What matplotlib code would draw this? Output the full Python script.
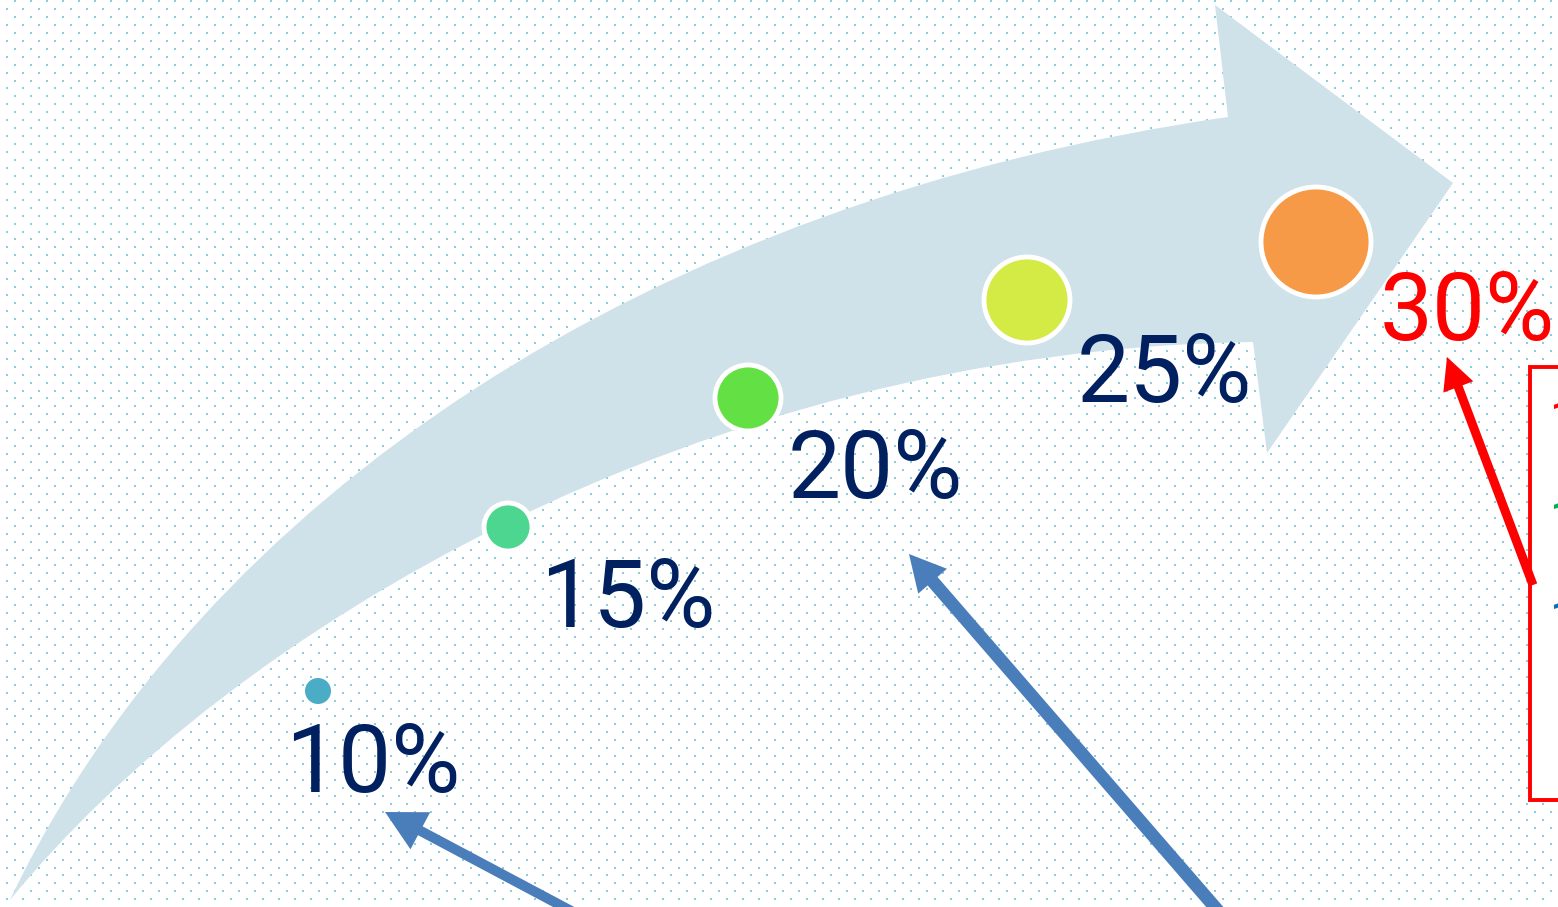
import numpy as np
import matplotlib.pyplot as plt
from matplotlib.path import Path
from matplotlib.patches import PathPatch, Circle, Rectangle, FancyArrow

# data
pct = [10, 15, 20, 25, 30]
labels = [f"{p}%" for p in pct]
dot_colors = ['#4bacc6', '#4cd68f', '#62e044', '#d5eb45', '#f79a48']
label_colors = ['#002060', '#002060', '#002060', '#002060', '#ff0000']
box_items = ['1', '1', '1']
box_colors = ['#ff0000', '#00b050', '#0070c0']

# layout (pixel coords, y down)
W, H = 1558, 907
cx = [318, 508, 748, 1027, 1316]
cy = [691, 527, 398, 300, 242]
rad = [13, 24, 33, 43, 55]
lx = [285, 540, 788, 1077, 1380]
ly = [792, 627, 498, 402, 340]

fig = plt.figure(figsize=(W / 100, H / 100), dpi=100)
ax = fig.add_axes([0, 0, 1, 1])
ax.set_xlim(0, W)
ax.set_ylim(H, 0)
ax.axis('off')

# dotted background
gx, gy = [], []
for i, yy in enumerate(np.arange(1, H, 7.95)):
    off = 15 if i % 2 == 0 else 7
    for xx in np.arange(off, W, 16):
        gx.append(xx); gy.append(yy)
ax.scatter(gx, gy, s=2.2, marker='s', color='#8ecbdc', linewidths=0, zorder=0)

# big curved arrow
verts = [(10, 900), (200, 500), (650, 200), (1228, 117),
         (1215, 5), (1453, 183), (1267, 453), (1253, 342),
         (700, 350), (230, 630), (10, 900), (10, 900)]
codes = [Path.MOVETO, Path.CURVE4, Path.CURVE4, Path.CURVE4,
         Path.LINETO, Path.LINETO, Path.LINETO, Path.LINETO,
         Path.CURVE4, Path.CURVE4, Path.CURVE4, Path.CLOSEPOLY]
ax.add_patch(PathPatch(Path(verts, codes), facecolor='#cfe1e9', edgecolor='none', zorder=1))

# circles and labels
for i in range(len(pct)):
    ax.add_patch(Circle((cx[i], cy[i]), rad[i], facecolor=dot_colors[i],
                        edgecolor='white', linewidth=3.5 if i else 0, zorder=3))
    ax.text(lx[i], ly[i], labels[i], color=label_colors[i], fontsize=68,
            family='Roboto', ha='left', va='baseline', zorder=4)

# red box with items (cut off at right edge, as in the source slide)
ax.add_patch(Rectangle((1530, 367), 120, 433, facecolor='white',
                       edgecolor='#ff0000', linewidth=2.8, zorder=2))
for k in range(len(box_items)):
    ax.text(1550, 399 + k * 100, box_items[k], color=box_colors[k], fontsize=26,
            fontweight='bold', family='Roboto', ha='left', va='top', zorder=4)

# pointer arrows
ax.add_patch(FancyArrow(575, 913, 385 - 575, 812 - 913, width=10, head_width=42,
                        head_length=40, length_includes_head=True,
                        color='#4a7ebb', linewidth=0, zorder=5))
ax.add_patch(FancyArrow(1220, 913, 909 - 1220, 554 - 913, width=13, head_width=38,
                        head_length=36, length_includes_head=True,
                        color='#4a7ebb', linewidth=0, zorder=5))
ax.add_patch(FancyArrow(1533, 585, 1447 - 1533, 357 - 585, width=9, head_width=32,
                        head_length=32, length_includes_head=True,
                        color='#ff0000', linewidth=0, zorder=5))

fig.savefig('out.png', dpi=100)
